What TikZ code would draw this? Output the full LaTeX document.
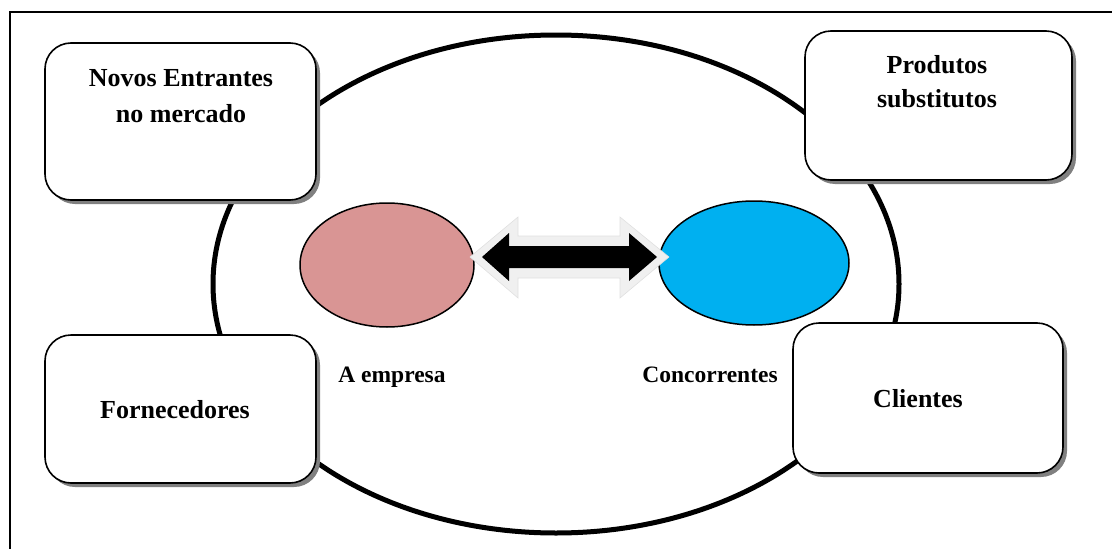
\documentclass[tikz,border=0pt]{standalone}
\usepackage{fontspec}
\setmainfont{Liberation Serif}
\usetikzlibrary{shapes.geometric,shadows}
\begin{document}
\begin{tikzpicture}[x=1pt,y=-1pt,
  forcebox/.style={draw=black,line width=1.6pt,fill=white,rounded corners=26pt,
    minimum width=#1,inner sep=0pt,
    drop shadow={shadow xshift=4pt,shadow yshift=-4pt,fill=black!50,opacity=1}},
  boxtext/.style={font=\bfseries\fontsize{26}{36}\selectfont,align=center,inner sep=0pt,anchor=base},
  lbltext/.style={font=\bfseries\fontsize{23.5}{30}\selectfont,inner sep=0pt,anchor=base},
  blob/.style={ellipse,draw=black,line width=1.5pt,inner sep=0pt}]
\useasboundingbox (0,0) rectangle (1112,549);
% outer frame (cropped on right and bottom)
\coordinate (fbl) at (10,560);
\coordinate (ftl) at (10,12);
\coordinate (ftr) at (1120,12);
\draw[line width=1.1pt] (fbl) -- (ftl) -- (ftr);
% big ellipse
\node[ellipse,draw=black,line width=5pt,minimum width=686pt,minimum height=498pt,inner sep=0pt] (market) at (556,284) {};
% boxes
\node[forcebox=271pt,minimum height=157pt] (b1) at (180.5,121.5) {};
\node[forcebox=267pt,minimum height=149pt] (b2) at (938.5,105.5) {};
\node[forcebox=271pt,minimum height=148pt] (b3) at (180.5,409) {};
\node[forcebox=270pt,minimum height=150pt] (b4) at (928,398) {};
\node[boxtext] (t1a) at (181,86) {Novos Entrantes};
\node[boxtext] (t1b) at (181,122) {no mercado};
\node[boxtext] (t2a) at (937,73) {Produtos};
\node[boxtext] (t2b) at (937,107) {substitutos};
\node[boxtext] (t3) at (175,418) {Fornecedores};
\node[boxtext] (t4) at (918,407) {Clientes};
% inner ellipses
\node[blob,fill={rgb,255:red,217;green,149;blue,148},minimum width=174pt,minimum height=124pt] (emp) at (387,265) {};
\node[blob,fill={rgb,255:red,0;green,176;blue,240},minimum width=190pt,minimum height=124pt] (conc) at (754,263) {};
\node[lbltext] (lemp) at (392,382) {A empresa};
\node[lbltext] (lconc) at (710,382) {Concorrentes};
% double arrow
\coordinate (ao) at (0,257);
\fill[black!6,draw=black!12,line width=0.6pt]
  (470,257) -- (518,217) -- (518,236) -- (620,236) -- (620,217) -- (669,257)
  -- (620,298) -- (620,278) -- (518,278) -- (518,298) -- cycle;
\fill[black]
  (482,257) -- (509,233) -- (509,246) -- (629,246) -- (629,233) -- (657,257)
  -- (629,281) -- (629,268) -- (509,268) -- (509,281) -- cycle;
\end{tikzpicture}
\end{document}
